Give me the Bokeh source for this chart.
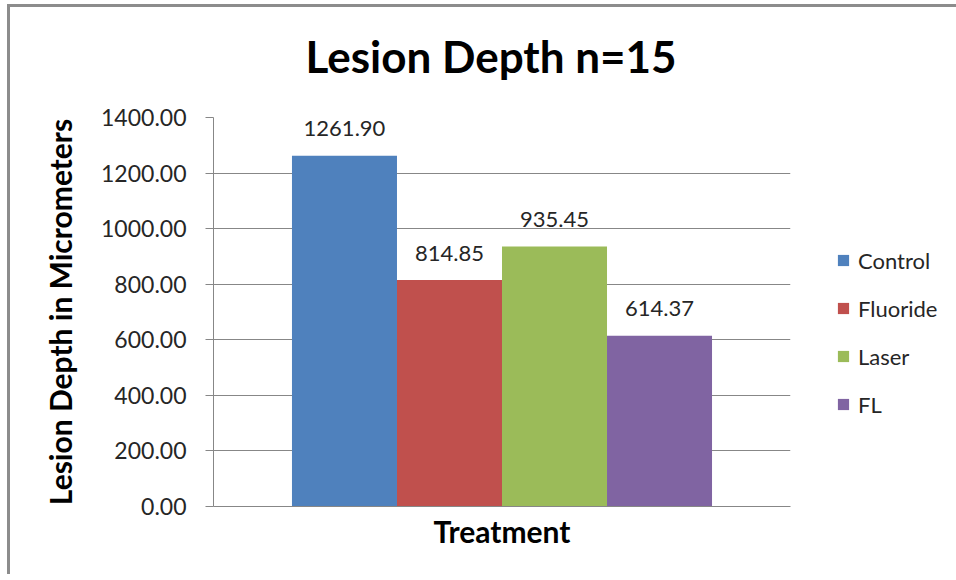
from bokeh.plotting import figure
from bokeh.models import ColumnDataSource, Range1d, Legend, LegendItem, LabelSet, NumeralTickFormatter, Title
from bokeh.core.properties import value
from bokeh.transform import dodge
from bokeh.embed import file_html
from bokeh.resources import INLINE

title = "Lesion Depth n=15"
group = ["Treatment"]
series = ["Control", "Fluoride", "Laser", "FL"]
values = [1261.90, 814.85, 935.45, 614.37]
colors = ["#4F81BD", "#C0504D", "#9BBB59", "#8064A2"]
y_ticks = [0, 200, 400, 600, 800, 1000, 1200, 1400]

FONT = "Lato"
GRID = "#878787"

p = figure(frame_width=577, frame_height=389, x_range=group, y_range=Range1d(0, 1400),
           output_backend="svg", toolbar_location=None, title=title,
           min_border_left=203, min_border_right=0, min_border_top=110, min_border_bottom=68)
p.styles = {"border-left": "3px solid #8c8c8c", "border-top": "3px solid #8c8c8c",
            "margin-left": "7px", "margin-top": "4px"}
p.outline_line_color = None
p.title.align = "left"
p.title.offset = 92
p.title.text_font = FONT
p.title.text_font_size = "44px"
p.title.text_font_style = "bold"
p.title.text_color = "black"
p.title.standoff = 40
p.add_layout(Title(text=" ", text_font_size="1px", standoff=13), "above")

bar_w = 0.182
offsets = [-1.5 * bar_w, -0.5 * bar_w, 0.5 * bar_w, 1.5 * bar_w]

# invisible spacer entry that pushes the legend entries down
spacer = p.vbar(x=[], top=[], width=bar_w, fill_alpha=0, line_alpha=0)
items = [LegendItem(label=" ", renderers=[spacer])]
for name, val, col, off in zip(series, values, colors, offsets):
    src = ColumnDataSource(dict(x=group, y=[val], lab=[f"{val:.2f}"]))
    r = p.vbar(x=dodge("x", off, range=p.x_range), top="y", width=bar_w, source=src,
               fill_color=col, line_color=None)
    items.append(LegendItem(label=name, renderers=[r]))
    p.add_layout(LabelSet(x=dodge("x", off, range=p.x_range), y="y", text="lab", source=src,
                          text_align="center", text_baseline="middle", y_offset=27,
                          text_font=value(FONT), text_font_size=value("22px"),
                          text_color="#262626"))

p.yaxis.ticker = y_ticks
p.yaxis.formatter = NumeralTickFormatter(format="0.00")
p.yaxis.major_label_text_font = FONT
p.yaxis.major_label_text_font_size = "23px"
p.yaxis.major_label_text_color = "#262626"
p.yaxis.axis_line_color = GRID
p.yaxis.major_tick_line_color = GRID
p.yaxis.major_tick_out = 8
p.yaxis.major_tick_in = 0
p.yaxis.minor_tick_line_color = None
p.yaxis.major_label_standoff = 19
p.yaxis.axis_label = "Lesion Depth in Micrometers"
p.yaxis.axis_label_text_font = FONT
p.yaxis.axis_label_text_font_size = "30px"
p.yaxis.axis_label_text_font_style = "bold"
p.yaxis.axis_label_text_color = "black"
p.yaxis.axis_label_standoff = 20

p.xaxis.axis_label = "Treatment"
p.xaxis.axis_label_text_font = FONT
p.xaxis.axis_label_text_font_size = "30px"
p.xaxis.axis_label_text_font_style = "bold"
p.xaxis.axis_label_text_color = "black"
p.xaxis.axis_label_standoff = 0
p.xaxis.major_label_text_font_size = "0px"
p.xaxis.major_tick_line_color = None
p.xaxis.minor_tick_line_color = None
p.xaxis.axis_line_color = GRID

p.xgrid.grid_line_color = None
p.ygrid.grid_line_color = GRID
p.ygrid.ticker = y_ticks

legend = Legend(items=items, location="left", orientation="vertical",
                label_text_font=FONT, label_text_font_size="22px", label_text_color="#262626",
                glyph_width=14, glyph_height=14, label_height=20, spacing=21,
                padding=0, margin=0, border_line_color=None, background_fill_alpha=0,
                label_standoff=8,
                title=" ", title_text_font_size="4px", title_location="left", title_standoff=41)
p.add_layout(legend, "right")

open("out.html", "w").write(file_html(p, INLINE))
